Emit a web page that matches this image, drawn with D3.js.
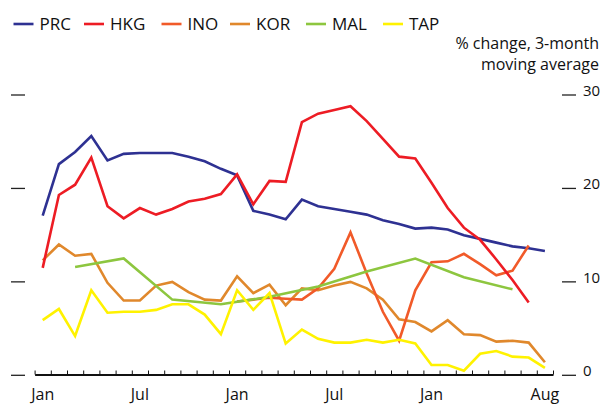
<!DOCTYPE html>
<html>
<head>
<meta charset="utf-8">
<script src="https://cdn.jsdelivr.net/npm/d3@7"></script>
<style>
  body { margin: 0; background: #fff; }
  svg { display: block; font-family: "Open Sans", sans-serif; }
</style>
</head>
<body>
<div id="chart"></div>
<script>
// months counted from the first January (0) to the last August (31)
var seriesNames = ["PRC", "HKG", "INO", "KOR", "MAL", "TAP"];
var seriesColors = ["#2e3192", "#ed1c24", "#f15a29", "#e0882c", "#8dc63f", "#fff200"];

var prc = [17.1, 22.6, 23.9, 25.6, 23.0, 23.7, 23.8, 23.8, 23.8, 23.4, 22.9, 22.1,
           21.4, 17.6, 17.2, 16.7, 18.8, 18.1, 17.8, 17.5, 17.2, 16.6, 16.2, 15.7,
           15.8, 15.6, 15.0, 14.6, 14.2, 13.8, 13.6, 13.3];
var hkg = [11.5, 19.3, 20.4, 23.3, 18.1, 16.8, 17.9, 17.2, 17.8, 18.6, 18.9, 19.4,
           21.5, 18.3, 20.8, 20.7, 27.1, 28.0, 28.4, 28.8, 27.2, 25.3, 23.4, 23.2,
           20.6, 17.9, 15.8, 14.5, 12.4, 10.2, 7.8];
var ino = [null, null, null, null, null, null, null, null, null, null, null, null,
           7.9, 8.1, 8.3, 8.2, 8.1, 9.3, 11.4, 15.3, 10.9, 6.8, 3.7, 9.1,
           12.1, 12.2, 13.0, 11.9, 10.7, 11.2, 13.9];
var kor = [12.3, 14.0, 12.8, 13.0, 9.9, 8.0, 8.0, 9.6, 10.0, 8.9, 8.1, 8.0,
           10.6, 8.8, 9.7, 7.5, 9.3, 9.1, 9.6, 10.0, 9.3, 8.1, 6.0, 5.7,
           4.7, 5.9, 4.4, 4.3, 3.6, 3.7, 3.5, 1.4];
// quarterly figures, plotted at the quarter's last month
var mal = [null, null, 11.6, null, null, 12.5, null, null, 8.1, null, null, 7.6,
           null, null, 8.4, null, null, 9.5, null, null, 11.1, null, null, 12.5,
           null, null, 10.5, null, null, 9.2];
var tap = [5.9, 7.1, 4.2, 9.1, 6.7, 6.8, 6.8, 7.0, 7.6, 7.6, 6.5, 4.4,
           9.1, 7.0, 8.8, 3.4, 4.9, 3.9, 3.5, 3.5, 3.8, 3.5, 3.8, 3.4,
           1.1, 1.1, 0.5, 2.3, 2.6, 2.0, 1.9, 0.8];

var monthLabels = ["Jan", "Jul", "Jan", "Jul", "Jan", "Aug"];
var labelMonths = [0, 6, 12, 18, 24, 31];
var yTicks = [0, 10, 20, 30];

var width = 603, height = 406;

var x = d3.scaleLinear().domain([-0.5, 31.5]).range([34.6, 553]);
var y = d3.scaleLinear().domain([0, 30]).range([375.3, 95]);

var svg = d3.select("#chart")
    .append("svg")
    .attr("width", width)
    .attr("height", height);

// y ticks, no labels on the left, numbers on the right
svg.selectAll(".ltick")
    .data(yTicks)
    .enter()
    .append("line")
    .attr("x1", 11).attr("x2", 25)
    .attr("y1", function(d) { return y(d); })
    .attr("y2", function(d) { return y(d); })
    .attr("stroke", "#222")
    .attr("stroke-width", 1.3);

svg.selectAll(".rtick")
    .data(yTicks)
    .enter()
    .append("line")
    .attr("x1", 562).attr("x2", 576)
    .attr("y1", function(d) { return y(d); })
    .attr("y2", function(d) { return y(d); })
    .attr("stroke", "#222")
    .attr("stroke-width", 1.3);

svg.selectAll(".rlabel")
    .data(yTicks)
    .enter()
    .append("text")
    .attr("x", 583)
    .attr("y", function(d) { return y(d) + 1; })
    .attr("font-size", 15)
    .attr("fill", "#111")
    .text(function(d) { return d; });

// x axis: small upward ticks at month boundaries
var boundaries = d3.range(-0.5, 32, 1);
var xAxis = d3.axisBottom(x)
    .tickValues(boundaries)
    .tickSizeInner(-4)
    .tickSizeOuter(0)
    .tickFormat("");

var gx = svg.append("g")
    .attr("transform", "translate(0,374.5)")
    .call(xAxis);
gx.select(".domain").attr("stroke", "#111").attr("stroke-width", 2);
gx.selectAll(".tick line").attr("stroke", "#111").attr("stroke-width", 1);

svg.selectAll(".xlabel")
    .data(monthLabels)
    .enter()
    .append("text")
    .attr("x", function(d, i) { return x(labelMonths[i]); })
    .attr("y", 400)
    .attr("text-anchor", "middle")
    .attr("font-size", 16)
    .attr("fill", "#111")
    .text(function(d) { return d; });

// lines
var line = d3.line()
    .x(function(d) { return x(d.m); })
    .y(function(d) { return y(d.v); });

function points(arr) {
    return arr.map(function(v, i) { return { m: i, v: v }; })
        .filter(function(d) { return d.v != null; });
}

var allSeries = [prc, hkg, ino, kor, mal, tap];
var drawOrder = [0, 3, 2, 1, 4, 5];

drawOrder.forEach(function(k) {
    svg.append("path")
        .datum(points(allSeries[k]))
        .attr("d", line)
        .attr("fill", "none")
        .attr("stroke", seriesColors[k])
        .attr("stroke-width", 2.6)
        .attr("stroke-linejoin", "miter");
});

// legend
var legendX = [13.5, 84, 161.5, 230, 306, 383];
var legend = svg.selectAll(".legend")
    .data(seriesNames)
    .enter()
    .append("g")
    .attr("transform", function(d, i) { return "translate(" + legendX[i] + ",24)"; });

legend.append("line")
    .attr("x1", 0).attr("x2", 20)
    .attr("stroke", function(d, i) { return seriesColors[i]; })
    .attr("stroke-width", 2.6);

legend.append("text")
    .attr("x", 26)
    .attr("y", 6)
    .attr("font-size", 17)
    .attr("fill", "#111")
    .text(function(d) { return d; });

// unit note
svg.append("text")
    .attr("x", 599)
    .attr("y", 49)
    .attr("text-anchor", "end")
    .attr("font-size", 16)
    .attr("fill", "#111")
    .text("% change, 3-month");
svg.append("text")
    .attr("x", 599)
    .attr("y", 70)
    .attr("text-anchor", "end")
    .attr("font-size", 16)
    .attr("fill", "#111")
    .text("moving average");
</script>
</body>
</html>
